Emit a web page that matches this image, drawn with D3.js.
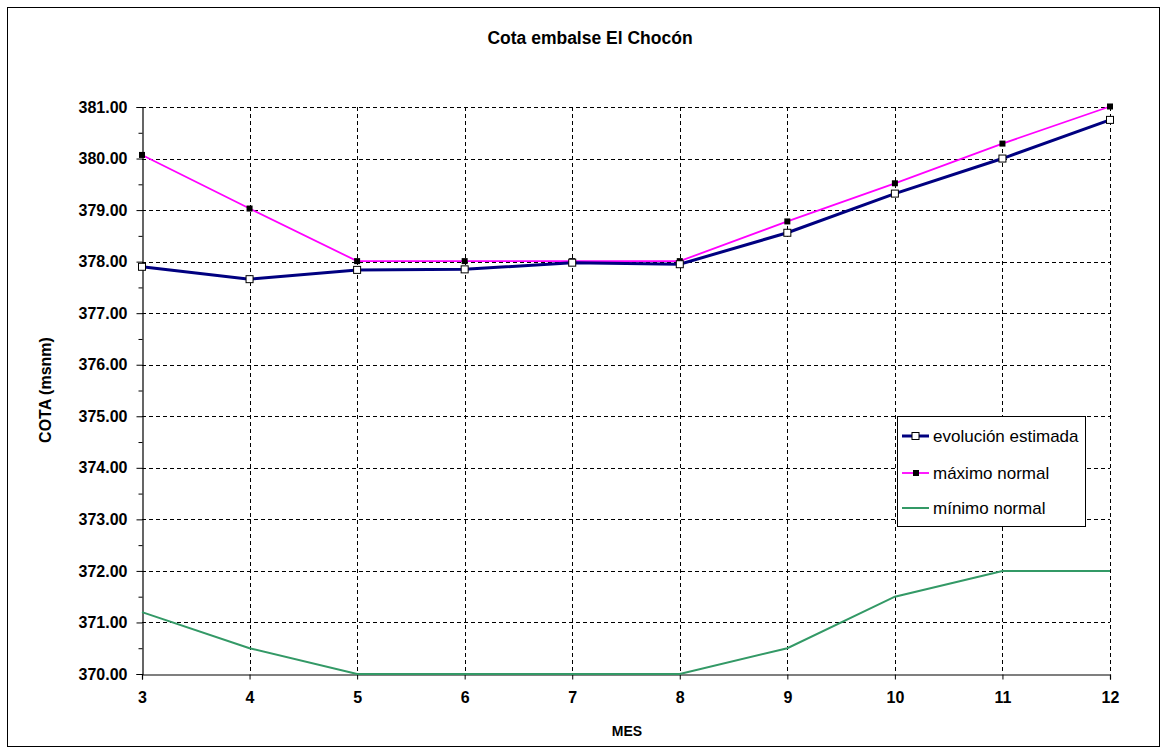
<!DOCTYPE html>
<html>
<head>
<meta charset="utf-8">
<script src="https://cdn.jsdelivr.net/npm/d3@7"></script>
<style>
  body { margin: 0; background: #fff; }
  svg { font-family: "Liberation Sans", Arial, sans-serif; }
</style>
</head>
<body>
<svg id="chart" width="1168" height="755"></svg>
<script>
// data
var months = [3, 4, 5, 6, 7, 8, 9, 10, 11, 12];
var evolucion = [377.90, 377.66, 377.84, 377.85, 377.98, 377.95, 378.56, 379.32, 380.00, 380.75];
var maximo = [380.07, 379.03, 378.01, 378.01, 378.01, 378.01, 378.78, 379.52, 380.29, 381.01];
var minimo = [371.20, 370.50, 370.00, 370.00, 370.00, 370.00, 370.50, 371.50, 372.00, 372.00];
var yTicks = [370, 371, 372, 373, 374, 375, 376, 377, 378, 379, 380, 381];
var seriesNames = ["evolución estimada", "máximo normal", "mínimo normal"];

var svg = d3.select("#chart");

// outer frame
svg.append("rect")
  .attr("x", 7.5).attr("y", 7.5)
  .attr("width", 1152).attr("height", 739)
  .attr("fill", "#fff").attr("stroke", "#000").attr("stroke-width", 1);

var plotLeft = 142, plotRight = 1110, plotTop = 107, plotBottom = 674;

var x = d3.scaleLinear().domain([3, 12]).range([plotLeft, plotRight]);
var y = d3.scaleLinear().domain([370, 381]).range([plotBottom, plotTop]);

// grid
var grid = svg.append("g").attr("stroke", "#000").attr("stroke-width", 1)
  .attr("stroke-dasharray", "4,3");
grid.selectAll("line.h")
  .data(yTicks.filter(function (d) { return d > 370; }))
  .enter().append("line")
  .attr("x1", plotLeft).attr("x2", plotRight)
  .attr("y1", function (d) { return Math.round(y(d)) + 0.5; })
  .attr("y2", function (d) { return Math.round(y(d)) + 0.5; });
grid.selectAll("line.v")
  .data(months.slice(1))
  .enter().append("line")
  .attr("y1", plotTop).attr("y2", plotBottom)
  .attr("x1", function (d) { return Math.round(x(d)) + 0.5; })
  .attr("x2", function (d) { return Math.round(x(d)) + 0.5; });

// axes
var xAxis = svg.append("g")
  .attr("transform", "translate(0," + (plotBottom + 0.5) + ")")
  .call(d3.axisBottom(x).tickValues(months).tickSize(5).tickPadding(12)
    .tickFormat(d3.format("d")));
var yMinor = svg.append("g")
  .attr("transform", "translate(" + (plotLeft + 0.5) + ",0)")
  .call(d3.axisLeft(y).tickValues(d3.range(370.5, 381, 1)).tickSize(4).tickFormat(""));
yMinor.select(".domain").remove();
var yAxis = svg.append("g")
  .attr("transform", "translate(" + (plotLeft + 0.5) + ",0)")
  .call(d3.axisLeft(y).tickValues(yTicks).tickSize(6).tickPadding(9)
    .tickFormat(d3.format(".2f")));

[xAxis, yAxis].forEach(function (a) {
  a.select(".domain").attr("stroke", "#000").attr("stroke-width", 1.2);
  a.selectAll("text").attr("font-size", 16).attr("font-weight", "bold")
    .attr("fill", "#000").attr("font-family", "Liberation Sans, Arial, sans-serif");
});

// lines
var line = d3.line()
  .x(function (d, i) { return x(months[i]); })
  .y(function (d) { return y(d); });

svg.append("path").datum(minimo)
  .attr("d", line).attr("fill", "none")
  .attr("stroke", "#339966").attr("stroke-width", 2);

svg.append("path").datum(maximo)
  .attr("d", line).attr("fill", "none")
  .attr("stroke", "#ff00ff").attr("stroke-width", 1.8);

svg.append("path").datum(evolucion)
  .attr("d", line).attr("fill", "none")
  .attr("stroke", "#000080").attr("stroke-width", 3);

svg.selectAll("rect.mx")
  .data(maximo).enter().append("rect")
  .attr("class", "mx")
  .attr("x", function (d, i) { return x(months[i]) - 3; })
  .attr("y", function (d) { return y(d) - 3; })
  .attr("width", 6).attr("height", 6)
  .attr("fill", "#000");

svg.selectAll("rect.ev")
  .data(evolucion).enter().append("rect")
  .attr("class", "ev")
  .attr("x", function (d, i) { return x(months[i]) - 3.5; })
  .attr("y", function (d) { return y(d) - 3.5; })
  .attr("width", 7).attr("height", 7)
  .attr("fill", "#fff").attr("stroke", "#000").attr("stroke-width", 1);

// titles
svg.append("text")
  .attr("x", 590).attr("y", 44)
  .attr("text-anchor", "middle")
  .attr("font-size", 17.5).attr("font-weight", "bold")
  .text("Cota embalse El Chocón");

svg.append("text")
  .attr("x", 627).attr("y", 736)
  .attr("text-anchor", "middle")
  .attr("font-size", 14).attr("font-weight", "bold")
  .text("MES");

svg.append("text")
  .attr("transform", "translate(51,390) rotate(-90)")
  .attr("text-anchor", "middle")
  .attr("font-size", 16).attr("font-weight", "bold")
  .text("COTA (msnm)");

// legend
var legend = svg.append("g");
legend.append("rect")
  .attr("x", 897.5).attr("y", 416.5)
  .attr("width", 188).attr("height", 110)
  .attr("fill", "#fff").attr("stroke", "#000").attr("stroke-width", 1);

var legColors = ["#000080", "#ff00ff", "#339966"];
var legWidths = [3, 1.8, 2];
var legY = [436, 473, 508];

seriesNames.forEach(function (name, i) {
  legend.append("line")
    .attr("x1", 902).attr("x2", 929)
    .attr("y1", legY[i]).attr("y2", legY[i])
    .attr("stroke", legColors[i]).attr("stroke-width", legWidths[i]);
  if (i === 0) {
    legend.append("rect")
      .attr("x", 912).attr("y", legY[i] - 3.5)
      .attr("width", 7).attr("height", 7)
      .attr("fill", "#fff").attr("stroke", "#000");
  } else if (i === 1) {
    legend.append("rect")
      .attr("x", 913).attr("y", legY[i] - 3)
      .attr("width", 6).attr("height", 6)
      .attr("fill", "#000");
  }
  legend.append("text")
    .attr("x", 933).attr("y", legY[i])
    .attr("dy", "0.35em")
    .attr("font-size", 17)
    .text(name);
});
</script>
</body>
</html>
